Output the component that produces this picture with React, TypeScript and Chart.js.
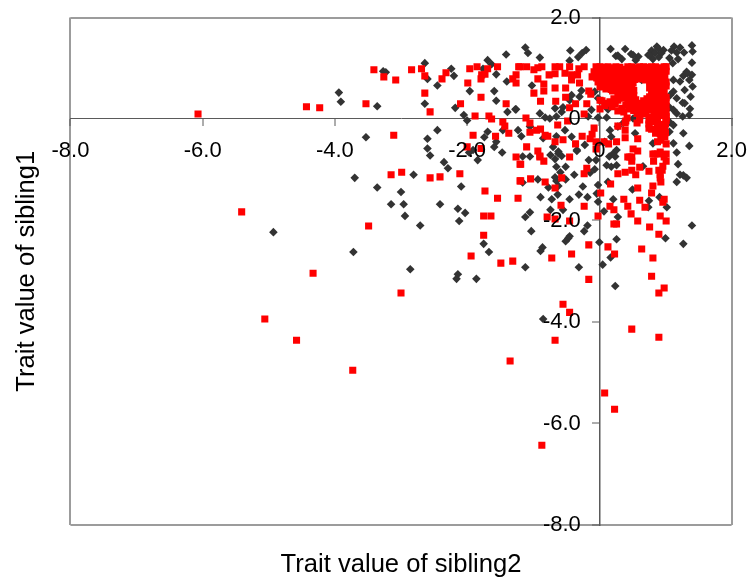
import { useEffect, useRef } from "react";
import { Chart, registerables } from "chart.js";

Chart.register(...registerables);

const xAxisTitle = "Trait value of sibling2";
const yAxisTitle = "Trait value of sibling1";

const blackPoints: number[][] = [
[-3.94,.52],[-3.91,.34],[-3.36,.25],[-3.27,.94],[-3.23,.92],[-2.64,1.10],[-2.60,.79],[-2.45,.66],[-2.24,.99],[-2.20,.85],[-2.64,.30],[-2.18,.22],[-2.05,.08],[-1.96,.55],[-2.00,-.03],[-1.69,1.16],[-1.63,1.08],[-1.76,.99],[-1.56,.88],[-1.41,1.27],[-1.40,.74],[-1.59,.55],[-1.56,.36],[-1.39,.14],[-1.26,.19],
[-3.53,-.36],[-2.45,-.22],[-2.60,-.39],[-2.60,-.58],[-2.56,-.72],[-1.69,-.25],[-1.74,-.36],[-1.56,-.45],[-1.59,-.55],[-1.46,-.22],[-1.47,-.66],[-1.91,-.61],[-1.97,-.66],
[-3.70,-1.16],[-3.36,-1.35],[-3.00,-1.44],[-3.15,-1.68],[-2.96,-1.68],[-2.94,-1.91],[-2.81,-1.10],[-2.71,-2.10],[-2.41,-1.68],[-2.35,-.85],[-2.29,-.97],[-2.09,-1.33],[-2.14,-1.77],[-2.03,-1.85],[-2.12,-2.01],[-3.72,-2.62],[-2.86,-2.96],[-2.14,-3.06],[-2.16,-3.15],[-1.86,-3.15],[-1.75,-2.46],[-1.67,-2.62],[-1.84,-.81],[-4.93,-2.23],
[-1.16,-.74],[-1.05,-.74],[-.74,-.71],[-.62,-.68],[-.67,-.79],[-.34,-.63],[-.16,-.81],[-.05,-.81],[.15,-.74],[.24,-.74],[.11,-.91],[.18,-.94],[.26,-.91],[.66,-.93],[1.17,-.66],[1.19,-.89],[1.22,-1.10],[1.27,-1.11],[1.32,-1.16],[1.17,-1.24],[-.65,-.94],[-.51,-.94],[-.59,-1.05],[-.38,-1.10],[-.14,-1.06],[-.07,-.99],[-.93,-1.19],[-1.16,-1.25],[-.67,-1.15],[-.65,-1.22],[-.51,-1.19],[-.77,-1.35],[-.62,-1.32],[-.63,-1.49],[-.89,-1.54],[-.72,-1.58],[-.45,-1.58],[-.31,-1.49],[-.18,-1.54],[-.25,-1.33],[-.02,-1.30],[.13,-1.24],[-.04,-1.47],[.21,-1.58],[-.02,-1.63],[.50,-1.39],[.91,-1.54],[.75,-1.61],[.74,-1.74],[1.02,-1.74],[.07,-1.82],[.28,-1.93],[-.74,-1.79],[-.55,-1.79],[-1.05,-1.84],[-1.12,-1.93],[-.18,-2.10],[-.23,-2.21],[-1.03,-2.21],[1.40,-2.10],[1.00,-2.35],[1.27,-2.46],[.26,-2.37],[0,-2.43],[-.45,-2.31],[-.47,-2.35],[-.51,-2.41],[-.86,-2.53],[-.89,-2.60],[.17,-2.73],[.05,-2.87],[-.31,-2.92],[-1.12,-2.92],[.24,-3.29],[-.85,-3.94],
[-1.12,1.41],[-1.08,1.30],[-.90,1.21],[-.44,1.35],[-.20,1.36],[-.26,1.30],[-.32,1.22],[-.45,1.15],[.17,1.38],[.39,1.38],[.25,1.24],[.34,1.18],[.48,1.28],[.59,1.23],[.55,1.16],[.87,1.43],[.79,1.35],[.74,1.26],[.84,1.30],[.90,1.22],[.81,1.18],[.97,1.36],[1.13,1.43],[1.22,1.41],[1.28,1.31],[1.40,1.45],[1.41,1.33],[1.09,1.35],[1.17,1.31],[1.06,1.20],[1.19,1.18],[1.40,1.11],[1.11,1.10],[1.32,.93],[1.27,.85],[1.40,.87],[1.36,.77],[1.22,.74],[1.12,.77],[1.41,.64],[1.12,.54],[1.29,.57],[1.26,.32],[1.07,.47],[1.12,.18],[1.17,.11],[1.06,.23],[1.37,.20],[1.26,.05],[1.07,-.07],[1.12,-.12],[1.27,-.28],[1.36,-.53],[1.12,-.48],[1.06,-.25],[1.33,.90],[1.17,.41],[1.29,.31],[1.38,.44],[1.36,.08],[.28,1.25],[.51,1.26],[.76,1.26],[.89,1.39],[.94,1.30],
[-1.02,.66],[-1.27,.19],[-.90,.11],[-.82,.03],[-.75,.01],[-.67,.21],[-.55,.23],[-.30,.44],[-.45,.37],[-.27,.56],[-.57,.14],[-.65,.05],[-.07,.54],[-.02,.41],[.13,.19],[.11,.03],[-.02,.03],[-.12,.18],[-.17,.05],[-.42,.47],[-1.05,-.15],[-1.23,-.22],[-1.18,-.34],[-.85,-.38],[-.65,-.34],[-.42,-.35],[-.52,-.22],[-.22,-.51],[-.34,-.61],[-.70,-.55],[-.62,-.64],[-.57,-.73],[.18,-.35],[.16,-.22],[.28,-.15],[.08,-.45],[-.02,-.48],[.21,-.68],[.26,-.61],[.54,-.28],[.81,-.48],[.76,-.08],[.51,.01],[.36,-.08],[.64,.77],[.66,.18],
];

const redPoints: number[][] = [
[-3.41,.97],[-3.26,.83],[-3.08,.77],[-2.84,.97],[-2.69,.99],[-2.64,.85],[-2.32,.91],[-2.38,.79],[-2.64,.51],[-3.53,.30],[-2.56,.14],[-1.96,.99],[-1.85,1.03],[-1.69,.99],[-1.54,1.03],[-1.22,1.03],[-1.79,.79],[-1.78,.87],[-1.73,.88],[-1.99,.71],[-1.79,.43],[-2.10,.30],[-1.88,.06],[-1.67,.06],[-1.63,0],[-1.41,.30],[-1.31,.79],[-1.26,.87],[-1.26,.71],[-1.46,-.06],[-1.43,-.14],[-1.37,-.28],[-1.57,-.34],[-1.91,-.32],[-3.11,-.32],[-1.79,-.58],[-2.00,-.55],
[-3.15,-1.10],[-2.99,-1.05],[-2.56,-1.16],[-2.41,-1.14],[-2.11,-1.08],[-1.73,-1.42],[-1.54,-1.56],[-1.23,-1.56],[-1.20,-1.22],[-1.20,-.89],[-1.26,-.75],[-1.75,-1.91],[-1.64,-1.91],[-1.75,-2.29],[-3.49,-2.11],[-1.94,-2.70],[-1.49,-2.84],[-1.31,-2.80],
[-6.07,.10],[-4.43,.24],[-4.23,.22],[-5.41,-1.83],[-4.33,-3.04],[-5.06,-3.94],[-4.58,-4.36],[-3.73,-4.95],[-3.00,-3.43],[-.16,-3.16],[.98,-3.33],[.90,-3.43],[-.55,-3.65],[-.45,-3.81],[.49,-4.14],[.90,-4.30],[-.67,-4.36],[-1.35,-4.77],[.08,-5.40],[.23,-5.72],[-.87,-6.43],
[-1.19,-.89],[-1.19,-1.22],[-1.04,-1.18],[-.82,-1.24],[-.90,-.75],[-.84,-.83],[-.45,-.75],[-.57,-1.16],[-.67,-1.36],[-.19,-.97],[-.23,-1.08],[-.58,-1.70],[-.23,-1.72],[-.79,-1.93],[-.67,-1.97],[-.45,-2.01],[-.02,-1.91],[.02,-1.46],[.17,-1.28],[.28,-1.08],[.39,-1.05],[.49,-1.01],[.55,-1.10],[.61,-.95],[.75,-1.03],[.43,-.75],[.49,-.75],[.49,-.83],[.58,-1.36],[.81,-1.32],[.79,-1.46],[.37,-1.58],[.61,-1.60],[.43,-1.72],[.69,-1.74],[.48,-1.87],[.58,-2.01],[.76,-2.13],[.90,-2.27],[.92,-1.91],[1.01,-2.01],[.16,-1.72],[.22,-1.79],[.22,-2.07],[.26,-2.07],[-.16,-2.48],[.13,-2.52],[.23,-2.66],[-.42,-2.66],[-.72,-2.74],[.64,-2.56],[.81,-2.74],[.79,-3.10],[.98,-1.58],[.96,-1.64],[.93,-1.24],[.92,-1.10],[.92,-1.16],[.90,-1.01],[.96,-.93],[.95,-1.01],[.82,-.83],[.81,-.69],[.88,-.69],[1.01,-.83],[.98,-.75],[1.01,-.69],[.92,-.65],
[-1.20,1.03],[-1.10,1.03],[-.99,.97],[-.93,1.01],[-.87,1.03],[-.67,1.03],[-.60,1.03],[-.45,1.03],[-.31,.99],[-.23,1.03],[-.76,.87],[-.67,.89],[-.52,.90],[-.42,.87],[-.33,.87],[-.93,.79],[-.84,.69],[-.84,.55],[-.99,.51],[-.67,.61],[-.51,.61],[-.51,.43],[-.42,.77],[-.30,.71],[-.89,.35],[-.66,.35],[-.36,.30],[-.19,.30],[-.45,.22],[-.23,.10],[-.16,.55],[-.13,.49],[.01,.37],[.01,.20],[-1.11,.02],[-1.05,-.08],[-1.05,-.26],[-.95,-.22],[-.89,-.20],[-.82,-.32],[-.78,-.34],[-.63,-.12],[-.48,-.04],[-.67,-.45],[-.55,-.41],[-.36,-.49],[-.26,-.34],[-.14,-.39],[-.08,-.18],[-.11,-.30],[-.05,-.45],[-.05,-.59],[.07,-.45],[.14,-.49],[.26,-.45],[.28,-.14],[-1.10,-.55],[-.93,-.63],[-.90,-.73],[.39,-.37],[.39,-.22],[.42,.02],[.39,-.08],[.57,-.08],[.58,-.39],[.51,-.59],[.58,-.63],[.75,-.02],[.75,-.18],[.79,-.20],[.88,-.45],[1.01,-.49],[.99,-.35],[.88,-.16],[.99,-.16],[.88,.02],[1.01,.02],[.95,-.22],[.84,-.69],[.46,-.75],
[-.05,1.03],[.01,1.03],[.07,1.02],[.13,1.03],[.19,1.01],[.25,1.03],[.31,1.02],[.43,1.03],[.49,1.03],[.55,1.01],[.61,1.03],[.67,1.03],[.73,1.02],[.79,1.03],[.85,1.03],[.91,1.01],[.98,1.03],[1.01,1.03],
[-.08,.93],[.01,.91],[.10,.94],[.18,.92],[.27,.95],[.34,.93],[.43,.91],[.52,.94],[.60,.92],[.69,.93],[.76,.95],[.84,.91],[.91,.93],[1.01,.94],
[-.11,.83],[-.04,.81],[.05,.84],[.14,.82],[.22,.85],[.31,.83],[.40,.81],[.49,.84],[.57,.83],[.66,.85],[.73,.82],[.82,.84],[.90,.81],[.99,.83],
[-.02,.73],[.07,.71],[.16,.74],[.25,.72],[.34,.75],[.43,.73],[.51,.71],[.76,.74],[.85,.72],[.94,.75],[1.01,.73],
[.01,.63],[.13,.61],[.22,.64],[.31,.62],[.42,.65],[.49,.63],[.76,.61],[.84,.64],[.93,.62],[1.01,.65],
[.20,.55],[.34,.53],[.52,.56],[.79,.54],[.88,.57],[.98,.55],
[.31,.45],[.43,.43],[.52,.46],[.76,.44],[.84,.47],[.91,.45],[1.01,.43],
[.04,.36],[.16,.34],[.28,.37],[.43,.35],[.55,.38],[.67,.36],[.76,.34],[.85,.37],[.95,.35],[1.01,.36],
[.08,.26],[.19,.24],[.40,.27],[.52,.25],[.61,.28],[.73,.26],[.82,.24],[.91,.27],[1.01,.25],
[.28,.16],[.37,.14],[.52,.17],[.61,.15],[.76,.18],[.85,.16],[1.01,.14],
[.61,.06],[.79,.04],[.91,.07],[1.01,.05],
[.40,-.04],[.61,-.02],[.82,-.05],[1.01,-.03],
[-.02,.98],[.04,.97],[.10,.99],[.16,.98],[.22,.97],[.28,.99],[.34,.98],[.40,.97],[.46,.98],[.52,.99],[.58,.97],[.64,.98],[.70,.99],[.76,.97],[.82,.98],[.88,.99],[.94,.97],
[-.02,.88],[.07,.87],[.14,.89],[.23,.88],[.30,.87],[.38,.89],[.46,.88],[.55,.87],[.63,.89],[.71,.88],[.79,.87],[.87,.89],[.95,.88],
[.02,.78],[.10,.77],[.18,.79],[.27,.78],[.35,.77],[.45,.79],[.53,.78],[.62,.79],[.70,.77],[.78,.79],[.86,.78],[.95,.77],
[.04,.68],[.12,.67],[.20,.69],[.29,.68],[.38,.67],[.47,.69],[.80,.68],[.89,.67],[.97,.69],
[.10,.59],[.18,.58],[.27,.60],[.37,.59],[.46,.58],[.80,.59],[.90,.60],[.97,.58],
[.28,.50],[.38,.49],[.47,.51],[.80,.50],[.87,.49],[.95,.51],
[.22,.40],[.36,.41],[.48,.39],[.72,.40],[.80,.41],[.88,.39],[.97,.40],
[.13,.31],[.24,.30],[.47,.32],[.58,.31],[.70,.30],[.78,.32],[.87,.31],[.97,.30],
[.34,.21],[.45,.20],[.57,.22],[.70,.21],[.80,.20],[.89,.22],[.97,.21],
[.57,.11],[.70,.10],[.83,.12],[.92,.11],[.98,.10],
[.75,-.10],[.88,-.09],[.96,-.11],[1.00,-.10],[.85,-.28],[.92,-.29],[1.00,-.27],[.93,-.42],
];

const xTicks = [-8, -6, -4, -2, 0, 2];
const yTicks = [2, 0, -2, -4, -6, -8];

const FONT = "'Liberation Sans', Arial, sans-serif";
const fmt = (v: number) => (v === 0 ? "0" : v.toFixed(1));
const toXY = (pts: number[][]) => pts.map(([x, y]) => ({ x, y }));

export default function App() {
  const ref = useRef<HTMLCanvasElement>(null);
  useEffect(() => {
    if (!ref.current) return;
    const frame = "#9c9c9c";
    const axisDark = "#5a5a5a";
    const edge = (c: any) => (c.tick && (c.tick.value === -8 || c.tick.value === 2) ? frame : "rgba(0,0,0,0)");
    const noMargins = (s: any) => {
      s.paddingLeft = 0;
      s.paddingRight = 0;
      s.paddingTop = 0;
      s.paddingBottom = 0;
    };
    const chart = new Chart(ref.current, {
      type: "scatter",
      data: {
        datasets: [
          { label: "red", data: toXY(redPoints), pointStyle: "rect", radius: 5, backgroundColor: "#ff0000", borderWidth: 0, xAxisID: "x", yAxisID: "y" },
          { label: "black", data: toXY(blackPoints), pointStyle: "rectRot", radius: 4.3, backgroundColor: "#333333", borderWidth: 0, xAxisID: "x", yAxisID: "y" },
        ],
      },
      options: {
        responsive: false,
        animation: false,
        layout: { padding: { left: 0, right: 16.4, top: 17.5, bottom: 0 } },
        plugins: { legend: { display: false }, tooltip: { enabled: false } },
        scales: {
          x: {
            type: "linear",
            min: -8,
            max: 2,
            position: { y: 0 },
            afterBuildTicks: (a: any) => { a.ticks = xTicks.map((value) => ({ value })); },
            afterFit: noMargins,
            ticks: { callback: (v: any) => fmt(Number(v)), color: "#000", font: { family: FONT, size: 22 }, padding: 12, z: 1, maxRotation: 0, autoSkip: false },
            grid: { z: -1, color: edge, lineWidth: 2, tickLength: 7, tickColor: axisDark, tickWidth: 1 },
            border: { color: axisDark, width: 1 },
          },
          y: {
            type: "linear",
            min: -8,
            max: 2,
            position: { x: 0 },
            afterBuildTicks: (a: any) => { a.ticks = yTicks.map((value) => ({ value })); },
            afterFit: noMargins,
            ticks: { display: false },
            grid: { z: -1, color: edge, lineWidth: 2, tickLength: 7, tickColor: axisDark, tickWidth: 1 },
            border: { color: axisDark, width: 1.5 },
          },
          yLabels: {
            type: "linear",
            axis: "y",
            min: -8,
            max: 2,
            position: { x: -0.28 },
            afterBuildTicks: (a: any) => { a.ticks = yTicks.map((value) => ({ value })); },
            afterFit: noMargins,
            ticks: { callback: (v: any) => fmt(Number(v)), color: "#000", font: { family: FONT, size: 22 }, z: 1, autoSkip: false },
            grid: { display: false },
            border: { display: false },
          },
          xTitle: {
            type: "linear",
            axis: "x",
            position: "bottom",
            min: -8,
            max: 2,
            afterFit: noMargins,
            ticks: { display: false },
            grid: { display: false },
            border: { display: false },
            title: { display: true, text: xAxisTitle, color: "#000", font: { family: FONT, size: 25.6 }, padding: { top: 16.3, bottom: 0 } },
          },
          yTitle: {
            type: "linear",
            axis: "y",
            position: "left",
            min: -8,
            max: 2,
            afterFit: noMargins,
            ticks: { display: false },
            grid: { display: false },
            border: { display: false },
            title: { display: true, text: yAxisTitle, color: "#000", font: { family: FONT, size: 25.6 }, padding: { top: 11.5, bottom: 20.2 } },
          },
        },
      } as any,
    });
    return () => chart.destroy();
  }, []);
  return (
    <div style={{ position: "absolute", left: 0, top: 0, width: 748, height: 580, background: "#fff" }}>
      <canvas ref={ref} width={748} height={580} style={{ display: "block" }} />
    </div>
  );
}
